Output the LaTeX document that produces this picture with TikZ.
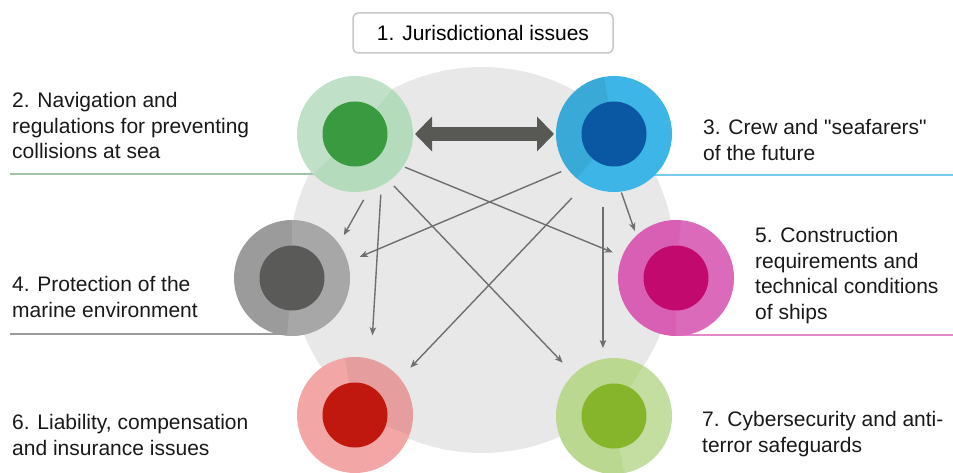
\documentclass[tikz,border=0pt]{standalone}
\usepackage{fontspec}
\setmainfont{Liberation Sans}[Ligatures=TeXOff]
\usepackage{xcolor}
\usetikzlibrary{positioning,arrows.meta}
\definecolor{bgdisk}{HTML}{E8E8E8}
\definecolor{linkgrey}{HTML}{6F6F6F}
\definecolor{bolddark}{HTML}{585955}
\definecolor{navring}{HTML}{B3DBBC}
\definecolor{navcore}{HTML}{3A9A40}
\definecolor{crewring}{HTML}{3DB5E6}
\definecolor{crewcore}{HTML}{0A57A3}
\definecolor{envring}{HTML}{9B9B9B}
\definecolor{envcore}{HTML}{5A5B58}
\definecolor{buildring}{HTML}{D95FB5}
\definecolor{buildcore}{HTML}{C20A6E}
\definecolor{liabring}{HTML}{F2A6A6}
\definecolor{liabcore}{HTML}{C0180E}
\definecolor{cyberring}{HTML}{BAD890}
\definecolor{cybercore}{HTML}{86B52B}

\begin{document}
\begin{tikzpicture}[
    x=1pt, y=1pt,
    ring/.style={circle, inner sep=0pt, outer sep=0pt, minimum size=116pt},
    core/.style={circle, inner sep=0pt, outer sep=0pt, minimum size=65pt},
    topic/.style={anchor=north west, inner sep=0pt, align=left, text=black!90,
        font=\fontsize{21pt}{25.5pt}\selectfont},
    link/.style={-{Stealth[length=8pt, width=6.5pt, inset=2pt]}, draw=linkgrey, line width=1.4pt},
    rule/.style={line width=2pt}
]
    \useasboundingbox (0,0) rectangle (953,472);
    \fill[bgdisk] (482,212) circle[radius=193pt];

    % title box
    \node[draw=black!22, line width=1.5pt, rounded corners=5pt, fill=white,
        minimum width=260pt, minimum height=40pt, inner sep=0pt,
        font=\fontsize{21pt}{25.5pt}\selectfont] (title) at (483,439) {1. Jurisdictional issues};

    % underlines
    \draw[rule, draw=navring!90!black] (10,298) -- (355,298);
    \draw[rule, draw=crewring!70] (614,297) -- (953,297);
    \draw[rule, draw=envring] (10,138) -- (292,138);
    \draw[rule, draw=buildring!75] (676,137) -- (953,137);

    % rings
    \node[ring, fill=navring] (c2) at (355,338) {};
    \node[ring, fill=crewring] (c3) at (614,338) {};
    \node[ring, fill=envring] (c4) at (292,194) {};
    \node[ring, fill=buildring] (c5) at (676,194) {};
    \node[ring, fill=liabring] (c6) at (355,57) {};
    \node[ring, fill=cyberring] (c7) at (614,56) {};

    % two-tone shading of the rings
    \fill[white, opacity=.18] (c2.center) -- (c2.50) arc[start angle=50, end angle=224, radius=58pt] -- cycle;
    \fill[black, opacity=.06] (c3.center) -- (c3.100) arc[start angle=100, end angle=230, radius=58pt] -- cycle;
    \fill[white, opacity=.12] (c4.center) -- (c4.-95) arc[start angle=-95, end angle=90, radius=58pt] -- cycle;
    \fill[white, opacity=.08] (c5.center) -- (c5.-90) arc[start angle=-90, end angle=85, radius=58pt] -- cycle;
    \fill[black, opacity=.05] (c6.center) -- (c6.-20) arc[start angle=-20, end angle=100, radius=58pt] -- cycle;
    \fill[white, opacity=.15] (c7.center) -- (c7.-80) arc[start angle=-80, end angle=60, radius=58pt] -- cycle;

    % cores
    \node[core, fill=navcore] (c2core) at (c2) {};
    \node[core, fill=crewcore] (c3core) at (c3) {};
    \node[core, fill=envcore] (c4core) at (c4) {};
    \node[core, fill=buildcore] (c5core) at (c5) {};
    \node[core, fill=liabcore] (c6core) at (c6) {};
    \node[core, fill=cybercore] (c7core) at (c7) {};

    % links
    \draw[bolddark, line width=14pt, {Triangle[length=17pt, width=34pt]}-{Triangle[length=17pt, width=34pt]},
        shorten <=2pt, shorten >=2pt] (c2.east) -- (c3.west);
    \draw[link, shorten <=11pt, shorten >=10pt] (c2.-76) -- (c4.36);
    \draw[link, shorten <=9pt, shorten >=24pt] (c2.-63) -- (c6.74);
    \draw[link, shorten <=7pt, shorten >=16pt] (c2.-54) -- (c7.134);
    \draw[link, shorten <=2pt, shorten >=10pt] (c2.-34) -- (c5.158);
    \draw[link, shorten <=7pt, shorten >=13pt] (c3.-143) -- (c4.16);
    \draw[link, shorten <=19pt, shorten >=15pt] (c3.-120) -- (c6.39);
    \draw[link, shorten <=16pt, shorten >=11pt] (c3.-101) -- (c7.101);
    \draw[link, shorten <=1pt, shorten >=5pt] (c3.-83) -- (c5.133);

    % topics
    \node[topic] (t2) at (12,379.5) {2. Navigation and\\regulations for preventing\\collisions at sea};
    \node[topic] (t3) at (703,352.5) {3. Crew and "seafarers"\\of the future};
    \node[topic] (t4) at (12,195.5) {4. Protection of the\\marine environment};
    \node[topic] (t5) at (755,244.5) {5. Construction\\requirements and\\technical conditions\\of ships};
    \node[topic] (t6) at (12,57.5) {6. Liability, compensation\\and insurance issues};
    \node[topic] (t7) at (702,60.5) {7. Cybersecurity and anti-\\terror safeguards};
\end{tikzpicture}
\end{document}
